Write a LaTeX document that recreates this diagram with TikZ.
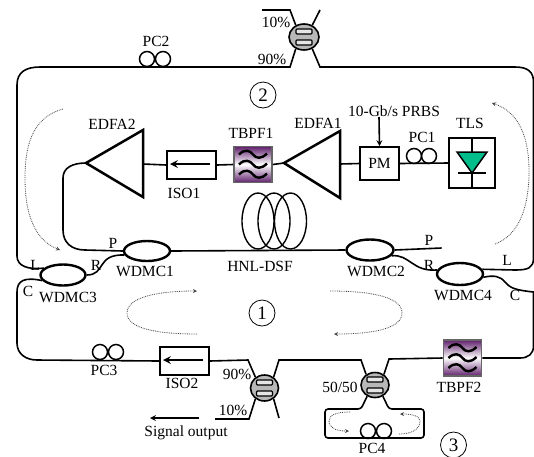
\documentclass[tikz,border=0pt]{standalone}
\usepackage{fontspec}
\setmainfont{Liberation Serif}
\usetikzlibrary{shapes.geometric}
\definecolor{fltpurple}{RGB}{96,32,108}
\definecolor{lsrgreen}{RGB}{0,190,140}
\tikzset{fib/.style = {line width=1.6pt},
         lab/.style = {inner sep=0pt,font=\fontsize{15.5}{17}\selectfont},
         wdm/.style = {ellipse,draw=black,line width=2.4pt,fill=white,inner sep=0pt},
         cpl/.style = {ellipse,draw=black,line width=1.6pt,fill=black!28,inner sep=0pt},
         loopc/.style = {circle,draw=black,line width=1.5pt,inner sep=0pt,minimum size=15pt},
         box/.style = {rectangle,draw=black,line width=1.7pt,fill=white,inner sep=0pt},
         flt/.style = {rectangle,draw=black!60,line width=1.6pt,inner sep=0pt,minimum width=38pt,minimum height=36pt,
                       top color=fltpurple,bottom color=fltpurple,middle color=white},
         amp/.style = {line width=2.5pt,miter limit=10},
         flow/.style = {-stealth,line width=.8pt,black!75,densely dotted},
         num/.style = {circle,draw=black,line width=.8pt,inner sep=0pt,minimum size=26pt,font=\fontsize{19}{20}\selectfont}
}
% coupler with its two bars
\newcommand{\coupler}[4]{
  \draw (#1) node[cpl,minimum width=#3pt,minimum height=#4pt] (#2) {};
  \begin{scope}[shift={(#2)}]
    \draw[line width=1.1pt,fill=black!10,rounded corners=1pt] (-8,-8) rectangle (8,-3);
    \draw[line width=1.1pt,fill=black!10,rounded corners=1pt] (-8,3) rectangle (8,8);
  \end{scope}
}
% filter with its three waves
\newcommand{\filter}[2]{
  \draw (#1) node[flt] (#2) {};
  \begin{scope}[shift={(#2)}]
    \foreach \wy in {-10,0,10}
      \draw[line width=2.4pt] (-14,\wy) .. controls (-8,\wy-6) and (-3,\wy-4) .. (0,\wy)
                              .. controls (3,\wy+4) and (8,\wy+5) .. (14,\wy-1);
  \end{scope}
}
\begin{document}
\begin{tikzpicture}[x=1pt,y=-1pt]
 \useasboundingbox (0,0) rectangle (534,456);

 % couplers
 \draw (63,275)  node[wdm,minimum width=45pt,minimum height=21pt] (wdmc3) {};
 \draw (147,251) node[wdm,minimum width=46pt,minimum height=20pt] (wdmc1) {};
 \draw (370,250) node[wdm,minimum width=47pt,minimum height=21pt] (wdmc2) {};
 \draw (460,274) node[wdm,minimum width=46pt,minimum height=22pt] (wdmc4) {};
 \coupler{304,37}{cplT}{30}{26}
 \coupler{264.5,388}{cplO}{28}{26}
 \coupler{375,385}{cplS}{28}{25}

 % boxes
 \draw (191.5,165) node[box,minimum width=49pt,minimum height=28pt] (iso1) {};
 \draw (184.5,361) node[box,minimum width=49pt,minimum height=28pt] (iso2) {};
 \draw (379.5,163.5) node[box,minimum width=39pt,minimum height=33pt,font=\fontsize{15.5}{17}\selectfont] (pm) {PM};
 \draw (472,163) node[box,minimum width=46pt,minimum height=50pt] (tls) {};
 \filter{253,164.5}{tbpf1}
 \filter{462.5,358}{tbpf2}

 % amplifiers
 \draw[amp] (86,163) coordinate (edfa2in) -- (143,130) -- (143,197) -- cycle;
 \coordinate (edfa2out) at (143,164);
 \draw[amp] (284,163) coordinate (edfa1in) -- (340,131) -- (340,198) -- cycle;
 \coordinate (edfa1out) at (340,164);

 % laser
 \draw[fib] (tls.north) -- (tls.south);
 \draw[line width=1.5pt,fill=lsrgreen] (457,152) -- (487,152) -- (472,173) -- cycle;
 \draw[line width=1.6pt] (458,173) -- (486,173);

 % polarization loops
 \draw (147,59)  node[loopc] (pc2a) {};
 \draw (163,59)  node[loopc] (pc2b) {};
 \draw (414,156) node[loopc] (pc1a) {};
 \draw (429,156) node[loopc] (pc1b) {};
 \draw (100,352) node[loopc] (pc3a) {};
 \draw (116,352) node[loopc] (pc3b) {};
 \draw (368,431) node[loopc] (pc4a) {};
 \draw (384,431) node[loopc] (pc4b) {};

 % fiber coil
 \foreach \cx in {258,274,290.5}
   \draw[line width=1.4pt] (\cx,221) ellipse (16 and 28);

 % main path
 \draw[fib] (tbpf1.west) -- (iso1.east);
 \draw[fib] (iso1.west) -- (edfa2out);
 \draw[fib] (edfa1in) -- (tbpf1.east);
 \draw[fib] (pm.west) -- (edfa1out);
 \draw[fib] (tls.west) -- (pm.east);
 \draw[fib] (wdmc1.east) -- (wdmc2.west);
 \draw[fib] (wdmc1.west) -- (85,250) .. controls (72,250) and (63,243) .. (63,230) -- (63,178)
            .. controls (63,168) and (72,163) .. (edfa2in);
 \draw[fib] (wdmc2.east) -- ++(47,-2) coordinate (pfree);
 \draw[fib] (wdmc2.-15) .. controls (410,254) and (412,272) .. (wdmc4.170);
 \draw[fib] (wdmc3.east) .. controls (106,275) and (96,254) .. (wdmc1.190);

 % ring 2
 \draw[fib] (cplT.235) -- (290,67) -- (40,67) .. controls (26,67) and (17,72) .. (17,85)
            -- (17,256) .. controls (17,266) and (28,270) .. (wdmc3.160);
 \draw[fib] (cplT.305) -- (320,67) -- (515,67) .. controls (528,67) and (533.5,72) .. (533.5,82)
            -- (533.5,258) .. controls (533.5,268) and (528,270) .. (515,270) -- (wdmc4.12);
 \draw[fib] (cplT.125) -- (290,10) -- (262,10);
 \draw[fib] (cplT.55) -- (320,10);

 % ring 1
 \draw[fib] (wdmc3.195) .. controls (25,277) and (17,280) .. (17,292) -- (17,343)
            .. controls (17,354) and (26,360) .. (37,360) -- (iso2.west);
 \draw[fib] (iso2.east) -- (248,360) -- (cplO.130);
 \draw[fib] (cplO.50) -- (279,360) -- (361,360) -- (cplS.130);
 \draw[fib] (cplS.50) -- (389,359) -- (tbpf2.west);
 \draw[fib] (tbpf2.east) -- (520,358) .. controls (528,358) and (533.5,354) .. (533.5,346)
            -- (533.5,292) .. controls (515,290) and (510,288) .. (505,282)
            .. controls (500,276) and (494,275) .. (wdmc4.-8);
 \draw[fib] (cplO.230) -- (249,419) -- (215,419);
 \draw[fib] (cplO.310) -- (279,418);

 % ring 3
 \draw[fib,rounded corners=3pt] (cplS.235) -- (361,409) -- (325,409) -- (325,438)
            -- (424,438) -- (424,409) -- (389,409) -- (cplS.305);

 % signal arrows
 \draw[line width=1.6pt,-stealth] (199,418) -- (150,418);
 \draw[line width=1.6pt,-stealth] (379,117) -- (pm.north);
 \draw[line width=2.4pt,-stealth] (210,164) -- (170,164);
 \draw[line width=2.4pt,-stealth] (203,360) -- (163,360);

 % direction of travel
 \draw[flow] (63,109) .. controls (30,118) and (25,150) .. (25,178) .. controls (25,215) and (35,240) .. (60,250);
 \draw[flow] (495,244) .. controls (520,235) and (529,205) .. (529,172) .. controls (529,135) and (518,112) .. (492,103);
 \draw[flow] (197,334) .. controls (155,334) and (127,328) .. (127,313) .. controls (127,298) and (155,291) .. (197,291);
 \draw[flow] (330,291) .. controls (375,291) and (402,298) .. (402,313) .. controls (402,328) and (375,334) .. (334,334);
 \draw[flow] (350,412) .. controls (336,412) and (329,415) .. (329,421) .. controls (329,428) and (336,431) .. (349,431);
 \draw[flow] (399,434) .. controls (412,434) and (420,429) .. (420,421) .. controls (420,416) and (412,414) .. (400,414);

 % labels
 \node[lab] (lpc2) at (156,41) {PC2};
 \node[lab] (ltenp) at (276,22) {10\%};
 \node[lab] (lninep) at (272,59) {90\%};
 \node[lab] (lprbs) at (394,111) {10-Gb/s PRBS};
 \node[lab] (ledfa2) at (112,124) {EDFA2};
 \node[lab] (ledfa1) at (318,123) {EDFA1};
 \node[lab] (ltbpf1) at (251,133) {TBPF1};
 \node[lab] (liso1) at (184,193) {ISO1};
 \node[lab] (lpc1) at (422,137) {PC1};
 \node[lab] (ltls) at (470,123) {TLS};
 \node[lab] (lp1) at (113,243) {P};
 \node[lab] (ll3) at (35,265) {L};
 \node[lab] (lr1) at (96,265) {R};
 \node[lab] (lc3) at (28,291) {C};
 \node[lab] (lwdmc3) at (68,297) {WDMC3};
 \node[lab] (lwdmc1) at (145,271) {WDMC1};
 \node[lab] (lhnl) at (260,266) {HNL-DSF};
 \node[lab] (lwdmc2) at (376,271) {WDMC2};
 \node[lab] (lp2) at (429,240) {P};
 \node[lab] (lr2) at (429,265) {R};
 \node[lab] (lwdmc4) at (463,295) {WDMC4};
 \node[lab] (ll4) at (507,260) {L};
 \node[lab] (lc4) at (515,295) {C};
 \node[lab] (lpc3) at (104,370) {PC3};
 \node[lab] (liso2) at (182,383) {ISO2};
 \node[lab] (lnineo) at (237,374) {90\%};
 \node[lab] (lteno) at (233,410) {10\%};
 \node[lab] (lsig) at (186,433) {Signal output};
 \node[lab] (lfifty) at (340,387) {50/50};
 \node[lab] (ltbpf2) at (459,387) {TBPF2};
 \node[lab] (lpc4) at (372,448) {PC4};
 \node[num] (ring2) at (263,95) {2};
 \node[num] (ring1) at (262,313) {1};
 \node[num] (ring3) at (453.5,445) {3};
\end{tikzpicture}
\end{document}
